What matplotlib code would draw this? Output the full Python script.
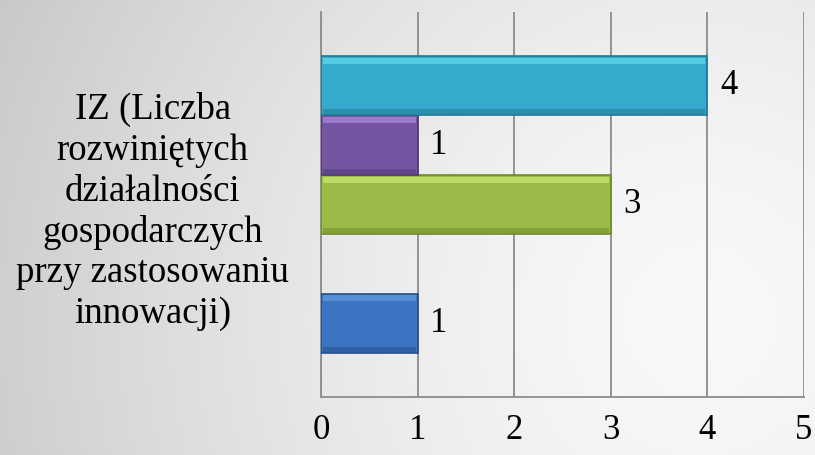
import matplotlib.pyplot as plt
import numpy as np

plt.rcParams['font.family'] = ['Liberation Serif', 'DejaVu Serif']

category = "IZ (Liczba\nrozwiniętych\ndziałalności\ngospodarczych\nprzy zastosowaniu\ninnowacji)"
# series from bottom to top, the second one has no value
values = [1, np.nan, 3, 1, 4]
colors = ['#3b74c0', '#c0504d', '#9bbb49', '#7455a2', '#35aacd']
edges = ['#26508a', '#8c3836', '#6c8a2c', '#4f3776', '#217890']
light = ['#6aa2e6', '#e07a77', '#d6f27a', '#b792e6', '#6fe2f5']
xticks = [0, 1, 2, 3, 4, 5]

fig = plt.figure(figsize=(8.15, 4.55), dpi=100)

# background gradient, light towards lower right
bg = fig.add_axes([0, 0, 1, 1], zorder=-1)
yy, xx = np.mgrid[0:455, 0:815]
r = np.sqrt((xx - 700) ** 2 + (yy - 320) ** 2) / 750.0
g = 0.975 - 0.18 * np.clip(r, 0, 1.2) ** 1.5
bg.imshow(np.dstack([g, g, g]), aspect='auto', extent=[0, 1, 0, 1], origin='upper')
bg.axis('off')

ax = fig.add_axes([0.394, 0.1275, 0.5925, 0.846])
ax.patch.set_alpha(0)

pos = np.arange(len(values))
for i, v in enumerate(values):
    if np.isnan(v):
        continue
    ax.barh(pos[i], v, height=1.0, color=colors[i], edgecolor=edges[i], linewidth=1.2, zorder=3)
    # bevel highlight along the top and shade along the bottom
    ax.barh(pos[i] + 0.42, v - 0.04, left=0.02, height=0.1, color=light[i], linewidth=0, alpha=0.6, zorder=4)
    ax.barh(pos[i] - 0.44, v - 0.04, left=0.02, height=0.08, color=edges[i], linewidth=0, alpha=0.5, zorder=4)
    ax.text(v + 0.13, pos[i], str(int(v)), va='center', ha='left', fontsize=25, zorder=5)

ax.set_xlim(0, 5)
ax.set_ylim(-1.24, 5.24)
ax.set_xticks(xticks)
ax.set_xticklabels([str(t) for t in xticks], fontsize=25)
ax.set_yticks([2])
ax.set_yticklabels([category], fontsize=26.5, multialignment='center', linespacing=1.23)
ax.tick_params(axis='both', length=0)
ax.tick_params(axis='x', pad=12)
ax.tick_params(axis='y', pad=23)
ax.grid(axis='x', color='#8c8c8c', linewidth=1.3, zorder=1)
for s in ['top', 'right']:
    ax.spines[s].set_visible(False)
for s in ['left', 'bottom']:
    ax.spines[s].set_color('#8c8c8c')
    ax.spines[s].set_linewidth(1.3)

fig.savefig('out.png', dpi=100)
